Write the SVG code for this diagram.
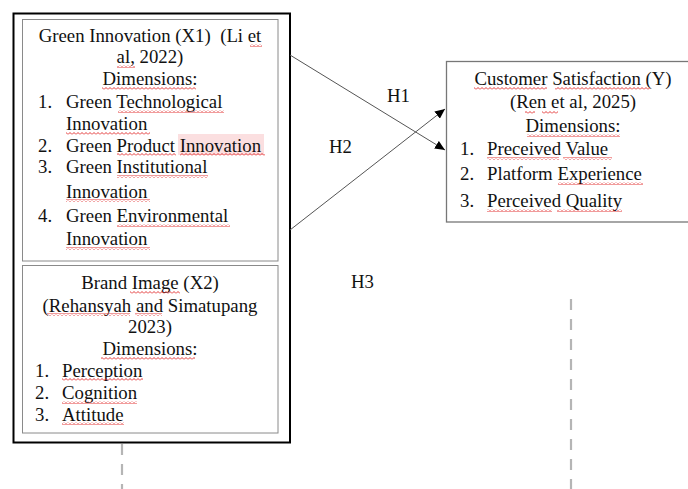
<svg xmlns="http://www.w3.org/2000/svg" width="688" height="489" viewBox="0 0 688 489">
<style>
  .t{font-family:"Liberation Serif","Times New Roman",serif;font-size:18.8px;fill:#111}
  .c{text-anchor:middle}
  .sq{fill:url(#sq)}
  .inner{fill:#fff;stroke:#8a8a8a;stroke-width:1}
  .conn{stroke:#555;stroke-width:1;fill:none}
  .dash{stroke:#b5b5b5;stroke-width:2.2;stroke-dasharray:11 9;fill:none}
</style>
<defs>
  <pattern id="sq" width="4" height="3" patternUnits="userSpaceOnUse">
    <path d="M0,2.5 L2,0.5 L4,2.5" fill="none" stroke="#e02020" stroke-width="0.9"/>
  </pattern>
  <marker id="ah" markerWidth="11" markerHeight="9" refX="10" refY="4.5" orient="auto" markerUnits="userSpaceOnUse">
    <path d="M0,0 L10,4.5 L0,9 z" fill="#000"/>
  </marker>
</defs>
<rect width="688" height="489" fill="#fff"/>

<g id="outer">
  <rect x="13.5" y="13.5" width="276.5" height="429" fill="#fff" stroke="#000" stroke-width="2"/>
</g>

<g id="green-innovation">
  <rect class="inner" x="22.5" y="19.5" width="255.5" height="241.5"/>
  <rect x="178" y="134" width="86" height="21" fill="#fbdfe0"/>
  <text class="t c" x="150" y="42" xml:space="preserve">Green Innovation (X1)  (Li et</text>
  <text class="t c" x="150" y="63">al, 2022)</text>
  <text class="t c" x="150" y="85">Dimensions:</text>
  <text class="t" x="38" y="108">1.</text><text class="t" x="66" y="108">Green Technological</text>
  <text class="t" x="66" y="130">Innovation</text>
  <text class="t" x="38" y="152">2.</text><text class="t" x="66" y="152">Green Product Innovation</text>
  <text class="t" x="38" y="173">3.</text><text class="t" x="66" y="173">Green Institutional</text>
  <text class="t" x="66" y="198">Innovation</text>
  <text class="t" x="38" y="222">4.</text><text class="t" x="66" y="222">Green Environmental</text>
  <text class="t" x="66" y="245">Innovation</text>
  <rect class="sq" x="250" y="44" width="12" height="3"/>
  <rect class="sq" x="117" y="65" width="18" height="3"/>
  <rect class="sq" x="102" y="87" width="94" height="3"/>
  <rect class="sq" x="118" y="110" width="106" height="3"/>
  <rect class="sq" x="66" y="132" width="84" height="3"/>
  <rect class="sq" x="117" y="153" width="59" height="3"/>
  <rect class="sq" x="180" y="153" width="85" height="3"/>
  <rect class="sq" x="117" y="175" width="91" height="3"/>
  <rect class="sq" x="66" y="199" width="84" height="3"/>
  <rect class="sq" x="117" y="224" width="113" height="3"/>
  <rect class="sq" x="66" y="247" width="84" height="3"/>
</g>

<g id="brand-image">
  <rect class="inner" x="22.5" y="265.5" width="255.5" height="167.5"/>
  <text class="t c" x="150" y="289">Brand Image (X2)</text>
  <text class="t c" x="150" y="312">(Rehansyah and Simatupang</text>
  <text class="t c" x="150" y="333">2023)</text>
  <text class="t c" x="150" y="355">Dimensions:</text>
  <text class="t" x="35" y="377">1.</text><text class="t" x="62" y="377">Perception</text>
  <text class="t" x="35" y="399">2.</text><text class="t" x="62" y="399">Cognition</text>
  <text class="t" x="35" y="421">3.</text><text class="t" x="62" y="421">Attitude</text>
  <rect class="sq" x="130" y="291" width="50" height="3"/>
  <rect class="sq" x="47" y="313" width="83" height="3"/>
  <rect class="sq" x="135" y="313" width="27" height="3"/>
  <rect class="sq" x="101" y="357" width="94" height="3"/>
  <rect class="sq" x="62" y="378" width="81" height="3"/>
  <rect class="sq" x="62" y="401" width="75" height="3"/>
  <rect class="sq" x="62" y="422" width="62" height="3"/>
</g>

<g id="customer-satisfaction">
  <rect x="446.5" y="61.5" width="260" height="160.5" fill="#fff" stroke="#777" stroke-width="1.3"/>
  <text class="t c" x="573" y="85">Customer Satisfaction (Y)</text>
  <text class="t c" x="573" y="108">(Ren et al, 2025)</text>
  <text class="t c" x="573" y="132">Dimensions:</text>
  <text class="t" x="460" y="155">1.</text><text class="t" x="487" y="155">Preceived Value</text>
  <text class="t" x="460" y="180">2.</text><text class="t" x="487" y="180">Platform Experience</text>
  <text class="t" x="460" y="207">3.</text><text class="t" x="487" y="207">Perceived Quality</text>
  <rect class="sq" x="474" y="87" width="73" height="3"/>
  <rect class="sq" x="555" y="87" width="95" height="3"/>
  <rect class="sq" x="525" y="111" width="10" height="3"/>
  <rect class="sq" x="542" y="111" width="16" height="3"/>
  <rect class="sq" x="527" y="134" width="93" height="3"/>
  <rect class="sq" x="487" y="157" width="72" height="3"/>
  <rect class="sq" x="563" y="157" width="49" height="3"/>
  <rect class="sq" x="558" y="182" width="85" height="3"/>
  <rect class="sq" x="487" y="209" width="65" height="3"/>
  <rect class="sq" x="557" y="209" width="65" height="3"/>
</g>

<g id="connectors">
  <line class="conn" x1="290" y1="55" x2="445" y2="150" marker-end="url(#ah)"/>
  <line class="conn" x1="290" y1="230" x2="445" y2="109" marker-end="url(#ah)"/>
  <line class="dash" x1="122" y1="444" x2="122" y2="489"/>
  <line class="dash" x1="571" y1="299" x2="571" y2="489"/>
</g>

<g id="labels">
  <text class="t" x="387" y="102">H1</text>
  <text class="t" x="329" y="153">H2</text>
  <text class="t" x="351" y="288">H3</text>
</g>
</svg>
